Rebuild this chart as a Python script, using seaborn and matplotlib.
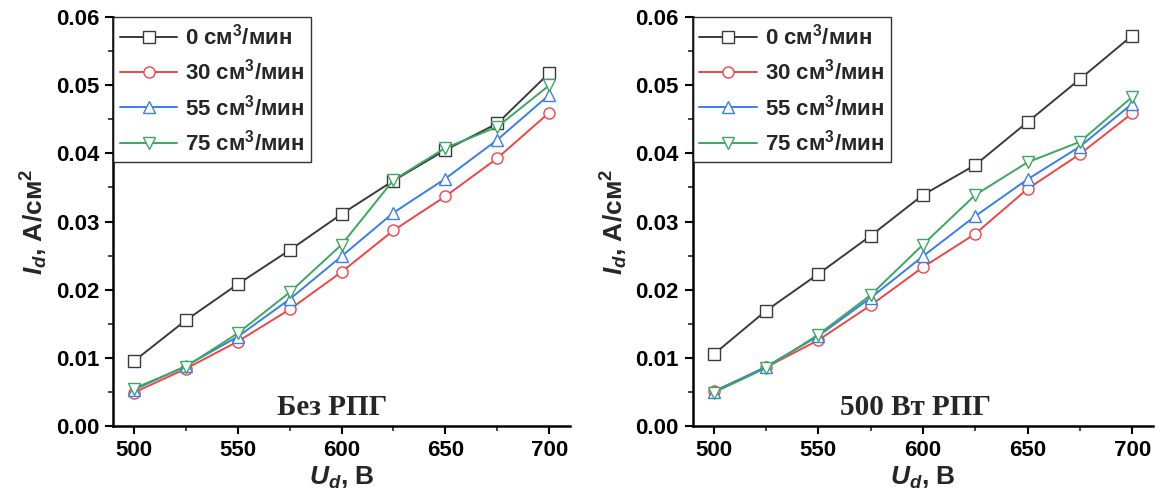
import numpy as np
import pandas as pd
import matplotlib
matplotlib.use("Agg")
import matplotlib.pyplot as plt
import seaborn as sns
from matplotlib.ticker import MultipleLocator

sns.set_theme(style="ticks")
plt.rcParams['font.family'] = ['Liberation Sans', 'DejaVu Sans']
plt.rcParams['font.weight'] = 'bold'
plt.rcParams['mathtext.fontset'] = 'custom'
plt.rcParams['mathtext.rm'] = 'Liberation Sans:bold'
plt.rcParams['mathtext.it'] = 'Liberation Sans:bold:italic'
plt.rcParams['mathtext.bf'] = 'Liberation Sans:bold'

voltage = [500, 525, 550, 575, 600, 625, 650, 675, 700]
series_labels = ["0 см$^3$/мин", "30 см$^3$/мин", "55 см$^3$/мин", "75 см$^3$/мин"]

# Panel 1: без РПГ
p1_0 = [0.0095, 0.0155, 0.0208, 0.0258, 0.0311, 0.0360, 0.0405, 0.0444, 0.0518]
p1_30 = [0.0049, 0.0084, 0.0124, 0.0171, 0.0226, 0.0287, 0.0337, 0.0393, 0.0460]
p1_55 = [0.0053, 0.0088, 0.0131, 0.0186, 0.0249, 0.0313, 0.0363, 0.0420, 0.0486]
p1_75 = [0.0055, 0.0087, 0.0136, 0.0196, 0.0266, 0.0361, 0.0408, 0.0439, 0.0500]

# Panel 2: 500 Вт РПГ
p2_0 = [0.0105, 0.0169, 0.0223, 0.0279, 0.0339, 0.0383, 0.0446, 0.0509, 0.0573]
p2_30 = [0.0051, 0.0086, 0.0126, 0.0177, 0.0233, 0.0282, 0.0348, 0.0399, 0.0459]
p2_55 = [0.0050, 0.0087, 0.0132, 0.0188, 0.0249, 0.0308, 0.0362, 0.0410, 0.0473]
p2_75 = [0.0049, 0.0085, 0.0134, 0.0192, 0.0266, 0.0339, 0.0387, 0.0417, 0.0483]

panel_titles = ["Без РПГ", "500 Вт РПГ"]

colors = ["#3a3a3a", "#f04545", "#3a7ee8", "#3aa860"]
markers = ["s", "o", "^", "v"]

fig = plt.figure(figsize=(11.66, 5.03), dpi=100)
ax1 = fig.add_axes([0.0969, 0.153, 0.392, 0.813])
ax2 = fig.add_axes([0.594, 0.153, 0.395, 0.813])

for ax, data, title, tx in [(ax1, [p1_0, p1_30, p1_55, p1_75], panel_titles[0], 0.48),
                            (ax2, [p2_0, p2_30, p2_55, p2_75], panel_titles[1], 0.485)]:
    for vals, lab, c, m in zip(data, series_labels, colors, markers):
        df = pd.DataFrame({"U": voltage, "I": vals})
        sns.lineplot(data=df, x="U", y="I", ax=ax, color=c, marker=m,
                     markersize=8, markerfacecolor="white", markeredgecolor=c,
                     markeredgewidth=1.0, linewidth=1.4, label=lab)
    ax.set_xlim(490, 710)
    ax.set_ylim(0, 0.06)
    ax.xaxis.set_major_locator(MultipleLocator(50))
    ax.xaxis.set_minor_locator(MultipleLocator(25))
    ax.yaxis.set_major_locator(MultipleLocator(0.01))
    ax.yaxis.set_minor_locator(MultipleLocator(0.005))
    ax.yaxis.set_major_formatter(matplotlib.ticker.FormatStrFormatter('%.2f'))
    sns.despine(ax=ax)
    for s in ["left", "bottom"]:
        ax.spines[s].set_linewidth(1.8)
        ax.spines[s].set_color("black")
    ax.tick_params(which="major", direction="out", length=6, width=1.5,
                   labelsize=16, colors="black", pad=4)
    ax.tick_params(which="minor", direction="out", length=3.5, width=1.2)
    for t in ax.get_xticklabels() + ax.get_yticklabels():
        t.set_fontweight("bold")
    ax.set_xlabel("$U_d$, В", fontsize=19, fontweight="bold", labelpad=3)
    ax.set_ylabel("$I_d$, A/см$^2$", fontsize=19, fontweight="bold", labelpad=4)
    leg = ax.legend(loc="upper left", bbox_to_anchor=(0.0, 1.0), frameon=True,
                    fancybox=False, prop={"size": 16, "weight": "bold"},
                    borderaxespad=0.0, handlelength=2.6, handletextpad=0.35,
                    labelspacing=0.42, borderpad=0.3)
    leg.get_frame().set_edgecolor("black")
    leg.get_frame().set_linewidth(1.0)
    ax.text(tx, 0.012, title, transform=ax.transAxes, ha="center", va="bottom",
            fontsize=21, fontweight="bold", family=["Liberation Serif", "DejaVu Serif"])

fig.savefig("out.png", dpi=100)
